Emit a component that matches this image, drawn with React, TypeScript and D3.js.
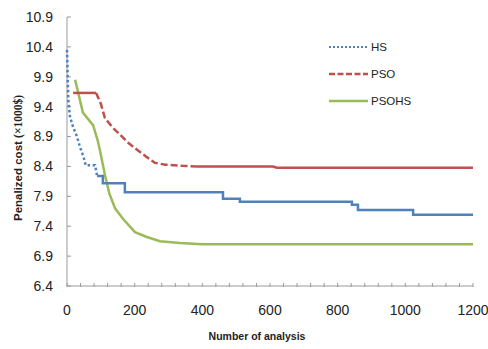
import React from "react";
import * as d3 from "d3";

const yTicks = [6.4, 6.9, 7.4, 7.9, 8.4, 8.9, 9.4, 9.9, 10.4, 10.9];
const xTicks = [0, 200, 400, 600, 800, 1000, 1200];

const hsX = [0, 2, 4, 9, 18, 30, 38, 47, 53, 55, 83, 86, 89, 106, 106, 171, 171, 461, 461, 511, 511, 842, 842, 860, 860, 1023, 1023, 1200];
const hsY = [10.35, 9.9, 9.5, 9.23, 9.06, 8.89, 8.73, 8.59, 8.48, 8.42, 8.42, 8.33, 8.24, 8.24, 8.12, 8.12, 7.97, 7.97, 7.86, 7.86, 7.81, 7.81, 7.76, 7.76, 7.67, 7.67, 7.59, 7.59];

const psoX = [18, 86, 100, 112, 135, 157, 180, 207, 235, 260, 290, 340, 384, 609, 620, 1200];
const psoY = [9.63, 9.63, 9.45, 9.21, 9.05, 8.93, 8.8, 8.68, 8.56, 8.46, 8.43, 8.41, 8.4, 8.4, 8.38, 8.38];

const psohsX = [24, 47, 77, 90, 97, 112, 125, 142, 166, 201, 236, 275, 334, 400, 1200];
const psohsY = [9.85, 9.3, 9.09, 8.85, 8.68, 8.26, 7.95, 7.7, 7.52, 7.3, 7.22, 7.15, 7.12, 7.1, 7.1];

const seriesNames = ["HS", "PSO", "PSOHS"];

const BLUE = "#4F81BD";
const RED = "#C0504D";
const GREEN = "#9BBB59";

export default function App() {
  const W = 488, H = 349;
  const x = d3.scaleLinear().domain([0, 1200]).range([67, 473]);
  const y = d3.scaleLinear().domain([6.4, 10.9]).range([286, 17]);
  const line = d3.line<[number, number]>().x(d => x(d[0])).y(d => y(d[1]));

  const hs: [number, number][] = hsX.map((v, i) => [v, hsY[i]]);
  const pso: [number, number][] = psoX.map((v, i) => [v, psoY[i]]);
  const psohs: [number, number][] = psohsX.map((v, i) => [v, psohsY[i]]);

  const hsDot = hs.filter(d => d[0] <= 89);
  const hsSolid = hs.filter(d => d[0] >= 89);
  const psoA = pso.filter(d => d[0] <= 86);
  const psoB = pso.filter(d => d[0] >= 86 && d[0] <= 384);
  const psoC = pso.filter(d => d[0] >= 384);

  const minor = d3.range(0, 1201, 40);
  const font = "'Liberation Sans', Arial, sans-serif";

  return (
    <svg width={W} height={H} style={{ position: "absolute", left: 0, top: 0, background: "#fff" }}>
      {/* axes */}
      <line x1={x(0)} x2={x(0)} y1={y(10.9)} y2={y(6.4)} stroke="#9a9a9a" strokeWidth={1} />
      <line x1={x(0)} x2={x(1200)} y1={y(6.4)} y2={y(6.4)} stroke="#9a9a9a" strokeWidth={1} />
      {yTicks.map(t => (
        <g key={t}>
          <line x1={x(0)} x2={x(0) + 4} y1={y(t)} y2={y(t)} stroke="#9a9a9a" />
          <text x={53} y={y(t)} dy="0.35em" textAnchor="end" fontFamily={font} fontSize={14} fill="#222">{t.toFixed(1)}</text>
        </g>
      ))}
      {minor.map(t => (
        <line key={t} x1={x(t)} x2={x(t)} y1={y(6.4) - 3} y2={y(6.4) + 1} stroke="#9a9a9a" />
      ))}
      {xTicks.map(t => (
        <text key={t} x={x(t)} y={315} textAnchor="middle" fontFamily={font} fontSize={14} fill="#222">{t}</text>
      ))}
      <text x={257} y={340} textAnchor="middle" fontFamily={font} fontSize={10.5} fontWeight="bold" fill="#222">Number of analysis</text>
      <text transform="translate(22,158) rotate(-90)" textAnchor="middle" fontFamily={font} fontSize={11.5} fontWeight="bold" fill="#222">
        Penalized cost <tspan fontFamily="'Liberation Serif', 'Times New Roman', serif">(×1000$)</tspan>
      </text>

      {/* series */}
      <path d={line(psohs) || ""} fill="none" stroke={GREEN} strokeWidth={2.5} />
      <path d={line(psoA) || ""} fill="none" stroke={RED} strokeWidth={2.5} />
      <path d={line(psoB) || ""} fill="none" stroke={RED} strokeWidth={2.5} strokeDasharray="7 3" />
      <path d={line(psoC) || ""} fill="none" stroke={RED} strokeWidth={2.5} />
      <path d={line(hsDot) || ""} fill="none" stroke={BLUE} strokeWidth={2.5} strokeDasharray="2.5 2.5" />
      <path d={line(hsSolid) || ""} fill="none" stroke={BLUE} strokeWidth={2.5} />

      {/* legend */}
      {seriesNames.map((n, i) => {
        const ly = [47, 74, 101][i];
        const col = [BLUE, RED, GREEN][i];
        const dash = ["2 2", "6 2.5", undefined][i];
        return (
          <g key={n}>
            <line x1={329} x2={368} y1={ly} y2={ly} stroke={col} strokeWidth={i === 0 ? 2 : 2.5} strokeDasharray={dash} />
            <text x={371} y={ly} dy="0.35em" fontFamily={font} fontSize={11.5} fill="#222">{n}</text>
          </g>
        );
      })}
    </svg>
  );
}
